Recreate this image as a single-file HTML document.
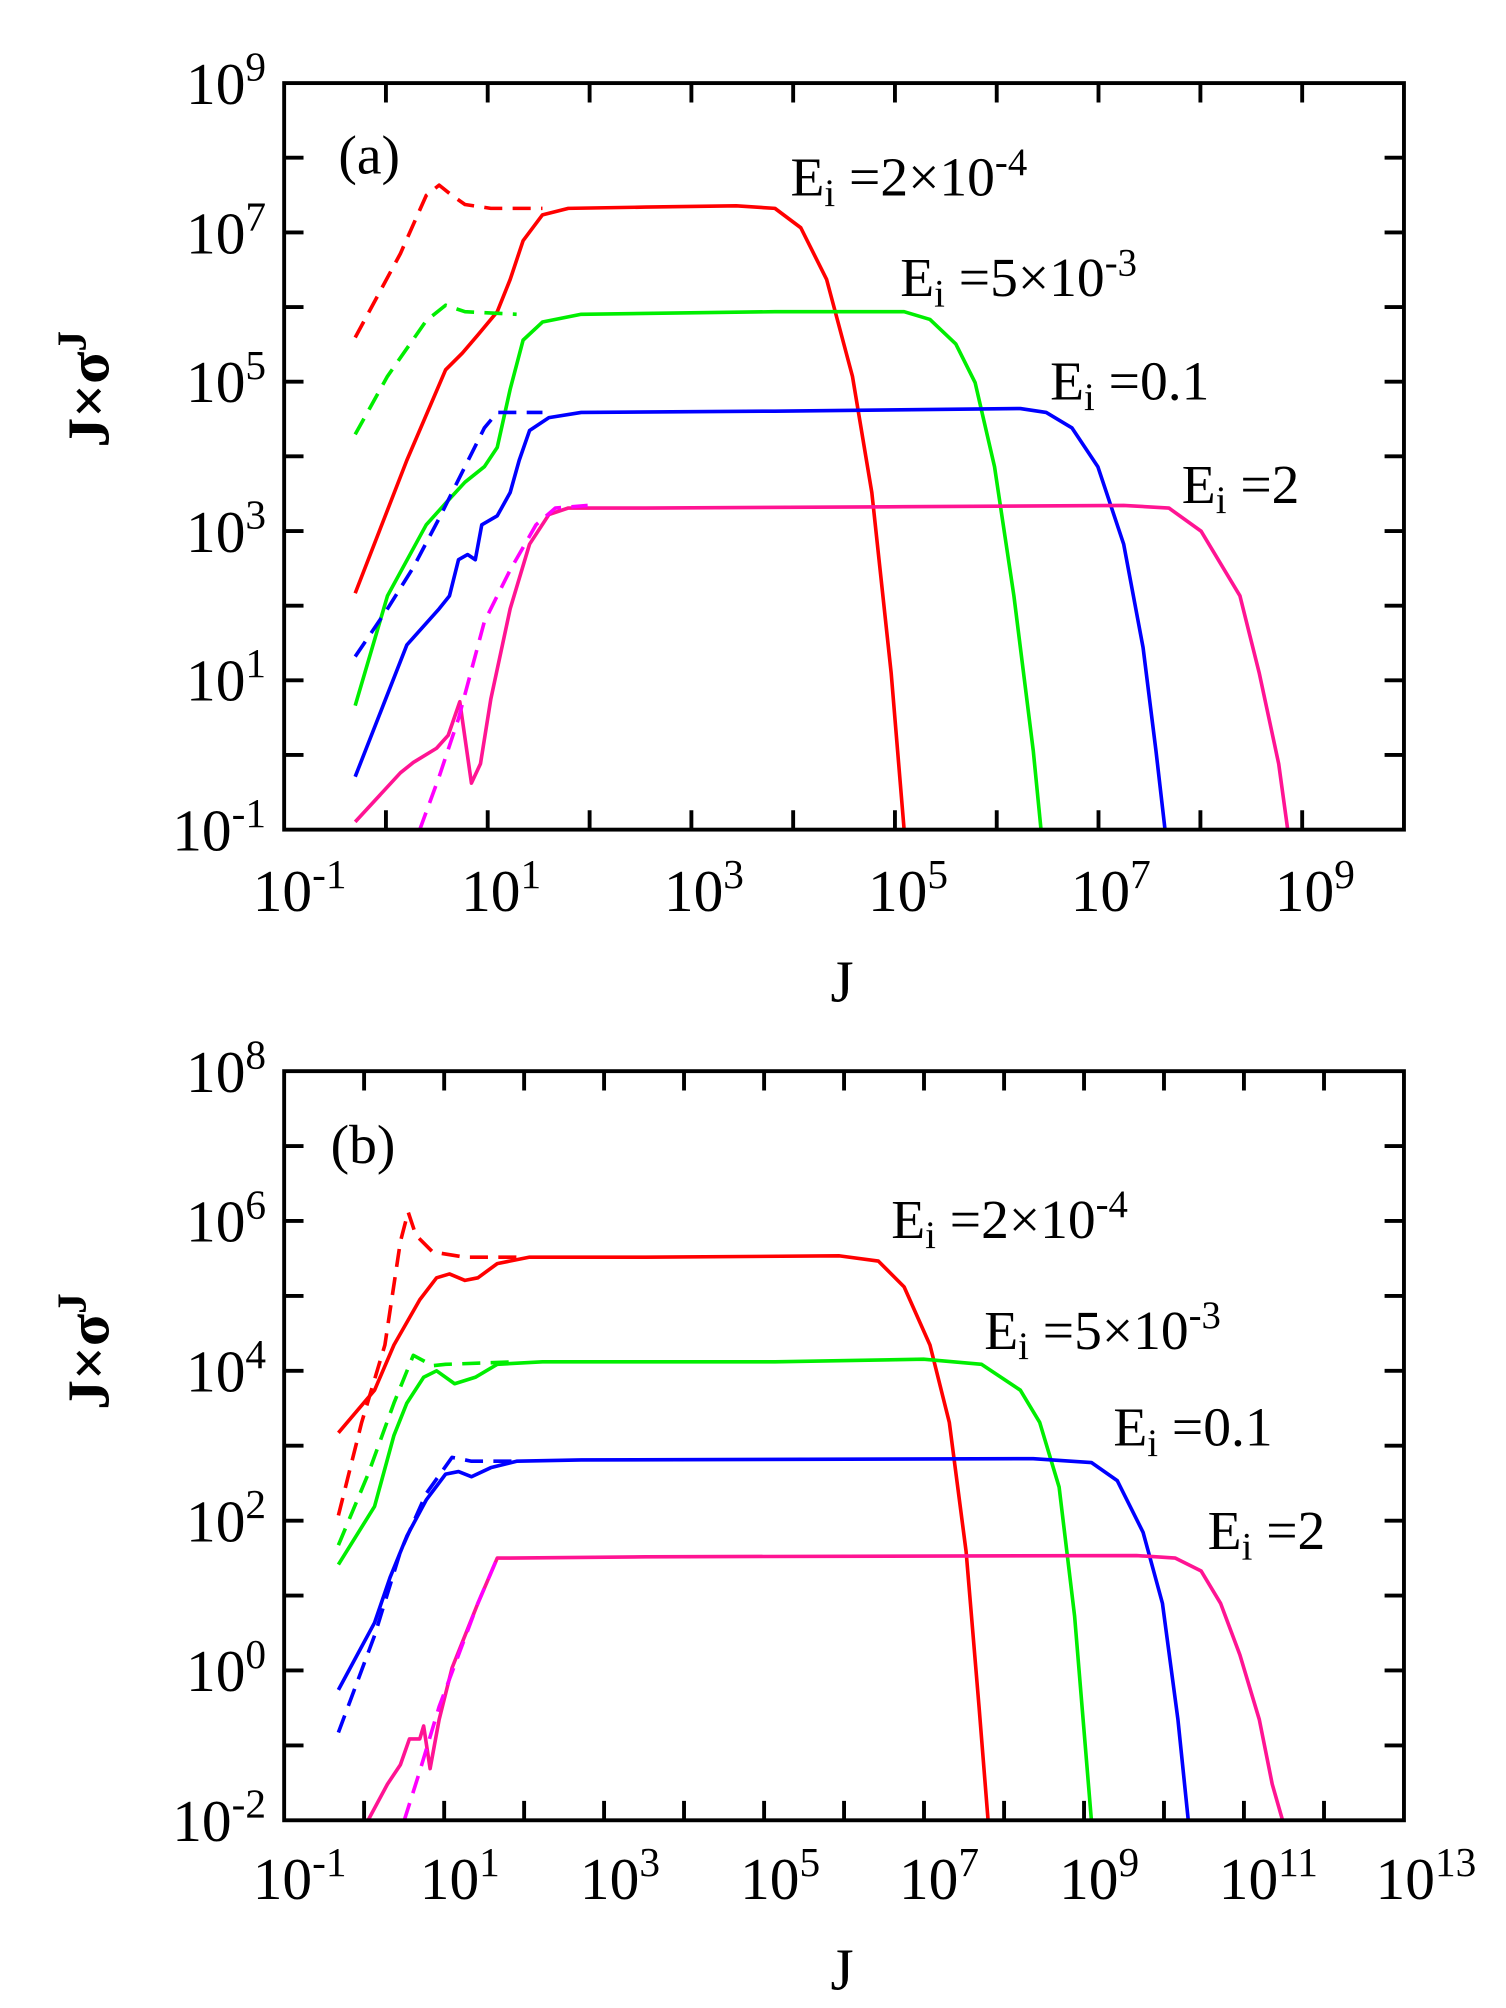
<!DOCTYPE html>
<html><head><meta charset="utf-8"><style>
html,body{margin:0;padding:0;background:#fff;}
svg{display:block;}
text{font-family:"Liberation Serif",serif;fill:#000;}
</style></head><body>
<svg width="1506" height="2008" viewBox="0 0 1166 1552" xmlns="http://www.w3.org/2000/svg">
<g fill="none" stroke-width="2.8" stroke-linejoin="round">
<polyline stroke="#ff0000" points="275,458 315,355 345,285 358,272 370,258 385,240 395,215 405,185 420,165 440,160 500,159 570,158 600,160 620,175 640,215 660,290 675,380 690,520 700,641"/>
<polyline stroke="#ff0000" stroke-dasharray="14,8" points="275,260 310,195 330,150 340,142 350,150 360,157 380,160 420,160"/>
<polyline stroke="#00ee00" points="275,545 300,460 330,405 348,385 360,372 375,360 385,345 395,300 405,262 420,248 450,242 600,240 700,240 720,246 740,265 755,295 770,360 785,460 800,580 806,641"/>
<polyline stroke="#00ee00" stroke-dasharray="14,8" points="275,335 300,290 330,247 345,235 360,240 400,242"/>
<polyline stroke="#0000ff" points="275,600 315,498 340,470 348,460 355,432 362,428 368,432 373,405 385,398 395,380 402,355 410,332 425,322 450,318 600,317 790,315 810,318 830,330 850,360 870,420 885,500 895,580 902,641"/>
<polyline stroke="#0000ff" stroke-dasharray="14,8" points="275,507 300,470 320,438 340,400 360,360 375,330 385,318 420,318"/>
<polyline stroke="#ff1493" points="275,635 310,597 320,589 338,578 347,568 356,542 365,605 372,590 380,540 395,470 410,420 425,397 440,392 500,392 700,391 870,390 905,392 930,410 960,460 975,520 990,590 997,641"/>
<polyline stroke="#ff00ff" stroke-dasharray="14,8" points="325,641 340,600 355,555 375,480 395,440 415,405 430,392 455,390"/>
<polyline stroke="#ff0000" points="262,1108 290,1075 305,1040 325,1005 338,988 348,985 360,990 370,988 385,977 410,972 500,972 650,971 680,975 700,995 720,1040 735,1100 748,1200 758,1320 765,1408"/>
<polyline stroke="#ff0000" stroke-dasharray="14,8" points="262,1172 280,1100 298,1040 310,960 316,937 322,955 335,968 360,972 400,972"/>
<polyline stroke="#00ee00" points="262,1210 290,1165 305,1110 315,1085 328,1065 338,1060 352,1070 368,1065 385,1055 420,1053 600,1053 715,1051 760,1055 790,1075 805,1100 820,1150 832,1250 845,1408"/>
<polyline stroke="#00ee00" stroke-dasharray="14,8" points="262,1195 285,1140 305,1085 320,1048 335,1056 345,1055 400,1053"/>
<polyline stroke="#0000ff" points="262,1307 290,1255 302,1220 315,1188 330,1160 345,1140 355,1138 365,1142 380,1135 400,1130 450,1129 800,1128 845,1131 865,1145 885,1185 900,1240 912,1330 920,1408"/>
<polyline stroke="#0000ff" stroke-dasharray="14,8" points="262,1340 290,1265 310,1200 330,1155 350,1127 365,1130 400,1130"/>
<polyline stroke="#ff1493" points="285,1408 300,1380 310,1365 317,1345 325,1345 328,1335 333,1368 340,1330 350,1290 370,1240 385,1205 395,1205 500,1204 880,1203 910,1205 930,1215 945,1240 960,1280 975,1330 985,1380 993,1408"/>
<polyline stroke="#ff00ff" stroke-dasharray="14,8" points="313,1408 325,1370 340,1320 355,1280 370,1240 385,1205"/>
</g>
<g fill="none" stroke="#000" stroke-width="3">
<rect x="220" y="63" width="867" height="578"/>
<rect x="220" y="828" width="867" height="580"/>
<path d="M298.8,641v-15M377.6,641v-15M456.5,641v-15M535.3,641v-15M614.1,641v-15M692.9,641v-15M771.7,641v-15M850.5,641v-15M929.4,641v-15M1008.2,641v-15
M298.8,63v15M377.6,63v15M456.5,63v15M535.3,63v15M614.1,63v15M692.9,63v15M771.7,63v15M850.5,63v15M929.4,63v15M1008.2,63v15
M220,583.2h15M220,525.4h15M220,467.6h15M220,409.8h15M220,352h15M220,294.2h15M220,236.4h15M220,178.6h15M220,120.8h15
M1087,583.2h-15M1087,525.4h-15M1087,467.6h-15M1087,409.8h-15M1087,352h-15M1087,294.2h-15M1087,236.4h-15M1087,178.6h-15M1087,120.8h-15
M281.9,1408v-15M343.9,1408v-15M405.8,1408v-15M467.7,1408v-15M529.6,1408v-15M591.6,1408v-15M653.5,1408v-15M715.4,1408v-15M777.4,1408v-15M839.3,1408v-15M901.2,1408v-15M963.1,1408v-15M1025.1,1408v-15
M281.9,828v15M343.9,828v15M405.8,828v15M467.7,828v15M529.6,828v15M591.6,828v15M653.5,828v15M715.4,828v15M777.4,828v15M839.3,828v15M901.2,828v15M963.1,828v15M1025.1,828v15
M220,1350h15M220,1292h15M220,1234h15M220,1176h15M220,1118h15M220,1060h15M220,1002h15M220,944h15M220,886h15
M1087,1350h-15M1087,1292h-15M1087,1234h-15M1087,1176h-15M1087,1118h-15M1087,1060h-15M1087,1002h-15M1087,944h-15M1087,886h-15"/>
</g>
<g font-size="46">
<text x="232" y="704" text-anchor="middle">10<tspan font-size="32" dy="-18">-1</tspan></text>
<text x="388" y="704" text-anchor="middle">10<tspan font-size="32" dy="-18">1</tspan></text>
<text x="545" y="704" text-anchor="middle">10<tspan font-size="32" dy="-18">3</tspan></text>
<text x="703" y="704" text-anchor="middle">10<tspan font-size="32" dy="-18">5</tspan></text>
<text x="860" y="704" text-anchor="middle">10<tspan font-size="32" dy="-18">7</tspan></text>
<text x="1018" y="704" text-anchor="middle">10<tspan font-size="32" dy="-18">9</tspan></text>
<text x="206" y="657" text-anchor="end">10<tspan font-size="32" dy="-18">-1</tspan></text>
<text x="206" y="541" text-anchor="end">10<tspan font-size="32" dy="-18">1</tspan></text>
<text x="206" y="426" text-anchor="end">10<tspan font-size="32" dy="-18">3</tspan></text>
<text x="206" y="310" text-anchor="end">10<tspan font-size="32" dy="-18">5</tspan></text>
<text x="206" y="195" text-anchor="end">10<tspan font-size="32" dy="-18">7</tspan></text>
<text x="206" y="79" text-anchor="end">10<tspan font-size="32" dy="-18">9</tspan></text>

<text x="232" y="1469" text-anchor="middle">10<tspan font-size="32" dy="-18">-1</tspan></text>
<text x="356" y="1469" text-anchor="middle">10<tspan font-size="32" dy="-18">1</tspan></text>
<text x="480" y="1469" text-anchor="middle">10<tspan font-size="32" dy="-18">3</tspan></text>
<text x="604" y="1469" text-anchor="middle">10<tspan font-size="32" dy="-18">5</tspan></text>
<text x="727" y="1469" text-anchor="middle">10<tspan font-size="32" dy="-18">7</tspan></text>
<text x="851" y="1469" text-anchor="middle">10<tspan font-size="32" dy="-18">9</tspan></text>
<text x="982" y="1469" text-anchor="middle">10<tspan font-size="32" dy="-18">11</tspan></text>
<text x="1104" y="1469" text-anchor="middle">10<tspan font-size="32" dy="-18">13</tspan></text>
<text x="206" y="1424" text-anchor="end">10<tspan font-size="32" dy="-18">-2</tspan></text>
<text x="206" y="1308" text-anchor="end">10<tspan font-size="32" dy="-18">0</tspan></text>
<text x="206" y="1192" text-anchor="end">10<tspan font-size="32" dy="-18">2</tspan></text>
<text x="206" y="1076" text-anchor="end">10<tspan font-size="32" dy="-18">4</tspan></text>
<text x="206" y="960" text-anchor="end">10<tspan font-size="32" dy="-18">6</tspan></text>
<text x="206" y="844" text-anchor="end">10<tspan font-size="32" dy="-18">8</tspan></text>
</g>
<g font-size="43">
<text x="262" y="133">(a)</text>
<text x="256" y="899">(b)</text>
<text x="612" y="150">E<tspan font-size="30" dy="8">i</tspan><tspan dy="-8"> =2×10</tspan><tspan font-size="30" dy="-16">-4</tspan></text>
<text x="697" y="228">E<tspan font-size="30" dy="8">i</tspan><tspan dy="-8"> =5×10</tspan><tspan font-size="30" dy="-16">-3</tspan></text>
<text x="813" y="308">E<tspan font-size="30" dy="8">i</tspan><tspan dy="-8"> =0.1</tspan></text>
<text x="915" y="388">E<tspan font-size="30" dy="8">i</tspan><tspan dy="-8"> =2</tspan></text>
<text x="690" y="957">E<tspan font-size="30" dy="8">i</tspan><tspan dy="-8"> =2×10</tspan><tspan font-size="30" dy="-16">-4</tspan></text>
<text x="762" y="1043">E<tspan font-size="30" dy="8">i</tspan><tspan dy="-8"> =5×10</tspan><tspan font-size="30" dy="-16">-3</tspan></text>
<text x="862" y="1118">E<tspan font-size="30" dy="8">i</tspan><tspan dy="-8"> =0.1</tspan></text>
<text x="935" y="1198">E<tspan font-size="30" dy="8">i</tspan><tspan dy="-8"> =2</tspan></text>
<text x="652" y="774" text-anchor="middle" font-size="46">J</text>
<text x="652" y="1539" text-anchor="middle" font-size="46">J</text>
<text transform="translate(84,300) rotate(-90)" text-anchor="middle" font-weight="bold" font-size="46">J×σ<tspan font-size="32" dy="-18">J</tspan></text>
<text transform="translate(84,1045) rotate(-90)" text-anchor="middle" font-weight="bold" font-size="46">J×σ<tspan font-size="32" dy="-18">J</tspan></text>
</g>
</svg>
</body></html>
